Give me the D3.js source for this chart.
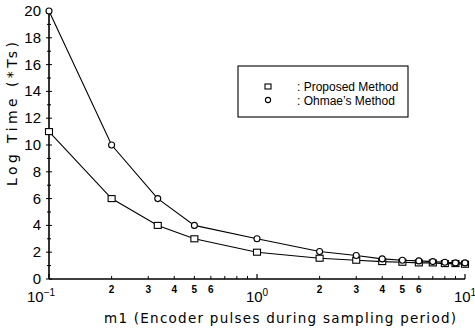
<!DOCTYPE html>
<html>
<head>
<meta charset="utf-8">
<script src="https://cdn.jsdelivr.net/npm/d3@7"></script>
<style>
  body { margin: 0; background: #fff; }
  text { font-family: "Liberation Sans", Arial, sans-serif; fill: #000; }
  .title { font-family: "DejaVu Sans", sans-serif; }
</style>
</head>
<body>
<div id="chart"></div>
<script>
// m1 values (encoder pulses during sampling period)
const m1 = [0.1, 0.2, 1 / 3, 0.5, 1, 2, 3, 4, 5, 6, 7, 8, 9, 10];
const proposed = [11, 6, 4, 3, 2, 1.55, 1.4, 1.3, 1.25, 1.2, 1.2, 1.15, 1.15, 1.1];
const ohmae = [20, 10, 6, 4, 3, 2.05, 1.75, 1.5, 1.4, 1.35, 1.3, 1.25, 1.2, 1.2];
const yTicks = [0, 2, 4, 6, 8, 10, 12, 14, 16, 18, 20];
const xMinorLabels = [2, 3, 4, 5, 6];

const width = 475, height = 329;
const margin = {top: 11, right: 10, bottom: 50, left: 49};

const svg = d3.select('#chart').append('svg')
  .attr('width', width)
  .attr('height', height);

const x = d3.scaleLog().domain([0.1, 10]).range([margin.left, 465]);
const y = d3.scaleLinear().domain([0, 20]).range([279, margin.top]);

// axes lines
svg.append('line')
  .attr('x1', x(0.1)).attr('x2', x(10))
  .attr('y1', y(0)).attr('y2', y(0))
  .attr('stroke', '#000').attr('stroke-width', 1.6);
svg.append('line')
  .attr('x1', x(0.1)).attr('x2', x(0.1))
  .attr('y1', y(0)).attr('y2', y(20))
  .attr('stroke', '#000').attr('stroke-width', 1.6);

// y ticks (major at even, minor at odd)
const yAll = d3.range(0, 21, 1);
svg.selectAll('.ytick').data(yAll).enter().append('line')
  .attr('x1', d => x(0.1) - (d % 2 === 0 ? 3 : 2))
  .attr('x2', d => x(0.1) + (d % 2 === 0 ? 3 : 2))
  .attr('y1', d => y(d)).attr('y2', d => y(d))
  .attr('stroke', '#000').attr('stroke-width', 1);
svg.selectAll('.ylab').data(yTicks).enter().append('text')
  .attr('x', 41).attr('y', d => y(d) + 5)
  .attr('text-anchor', 'end')
  .attr('font-size', 15)
  .text(d => d);

// x ticks
const decades = [0.1, 1, 10];
const minors = [];
[0.1, 1].forEach(dec => { for (let k = 2; k <= 9; k++) minors.push(dec * k); });
svg.selectAll('.xminor').data(minors).enter().append('line')
  .attr('x1', d => x(d)).attr('x2', d => x(d))
  .attr('y1', y(0)).attr('y2', y(0) - 3)
  .attr('stroke', '#000').attr('stroke-width', 1);
svg.selectAll('.xmajor').data(decades).enter().append('line')
  .attr('x1', d => x(d)).attr('x2', d => x(d))
  .attr('y1', y(0)).attr('y2', y(0) - 5)
  .attr('stroke', '#000').attr('stroke-width', 1.2);

// minor labels 2..6 in each decade
const minorLab = [];
[0.1, 1].forEach(dec => xMinorLabels.forEach(k => minorLab.push({v: dec * k, k})));
svg.selectAll('.xmlab').data(minorLab).enter().append('text')
  .attr('x', d => x(d.v)).attr('y', 293)
  .attr('text-anchor', 'middle')
  .attr('font-size', 10).attr('font-weight', 'bold')
  .text(d => d.k);

// decade labels
const decLab = [{v: 0.1, e: '−1', dx: -8}, {v: 1, e: '0', dx: 0}, {v: 10, e: '1', dx: 0}];
decLab.forEach(d => {
  const t = svg.append('text')
    .attr('x', x(d.v) + d.dx).attr('y', 302)
    .attr('text-anchor', 'middle')
    .attr('font-size', 15);
  t.append('tspan').text('10');
  t.append('tspan').attr('dy', -6).attr('font-size', 10).text(d.e);
});

// axis titles
svg.append('text')
  .attr('class', 'title')
  .attr('x', 104).attr('y', 323)
  .attr('font-size', 13.5)
  .attr('textLength', 352)
  .attr('lengthAdjust', 'spacing')
  .text('m1 (Encoder pulses during sampling period)');
svg.append('text')
  .attr('class', 'title')
  .attr('transform', 'translate(17,186) rotate(-90)')
  .attr('font-size', 14)
  .attr('textLength', 144)
  .attr('lengthAdjust', 'spacing')
  .text('Log Time (*Ts)');

// lines
const line = d3.line().x(d => x(d[0])).y(d => y(d[1]));
const propData = m1.map((m, i) => [m, proposed[i]]);
const ohmData = m1.map((m, i) => [m, ohmae[i]]);
[propData, ohmData].forEach(data => {
  svg.append('path').datum(data)
    .attr('d', line)
    .attr('fill', 'none')
    .attr('stroke', '#000')
    .attr('stroke-width', 1.1);
});

// markers
svg.selectAll('.sq').data(propData).enter().append('rect')
  .attr('x', d => x(d[0]) - 3.5).attr('y', d => y(d[1]) - 3)
  .attr('width', 7).attr('height', 6)
  .attr('fill', '#fff').attr('stroke', '#000').attr('stroke-width', 1.1);
svg.selectAll('.ci').data(ohmData).enter().append('circle')
  .attr('cx', d => x(d[0])).attr('cy', d => y(d[1]))
  .attr('r', 3)
  .attr('fill', '#fff').attr('stroke', '#000').attr('stroke-width', 1.1);

// legend
const lg = svg.append('g');
lg.append('rect')
  .attr('x', 238).attr('y', 66).attr('width', 170).attr('height', 51)
  .attr('fill', '#fff').attr('stroke', '#000').attr('stroke-width', 1.1);
lg.append('rect')
  .attr('x', 265).attr('y', 84).attr('width', 6).attr('height', 5)
  .attr('fill', '#fff').attr('stroke', '#000').attr('stroke-width', 1.1);
lg.append('circle')
  .attr('cx', 268).attr('cy', 100).attr('r', 2.6)
  .attr('fill', '#fff').attr('stroke', '#000').attr('stroke-width', 1.1);
lg.append('text').attr('x', 297).attr('y', 91).attr('font-size', 12)
  .text(': Proposed Method');
lg.append('text').attr('x', 297).attr('y', 105).attr('font-size', 12)
  .text(': Ohmae\u2019s  Method');
</script>
</body>
</html>
